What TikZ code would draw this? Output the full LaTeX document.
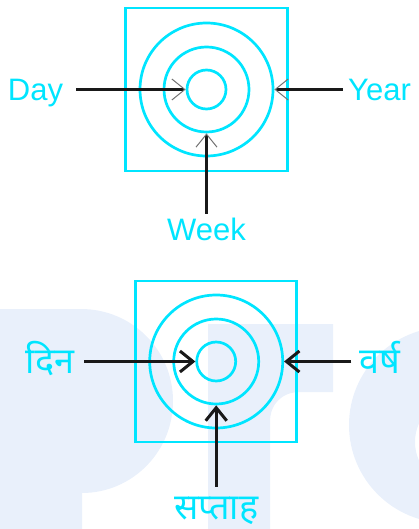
\documentclass[tikz,border=0pt]{standalone}
\usepackage{fontspec}
\setmainfont{Liberation Sans}
\newfontfamily\hindi[Script=Devanagari]{Noto Sans}
\usetikzlibrary{arrows.meta}
\definecolor{ringcyan}{RGB}{0,229,255}
\definecolor{wmblue}{RGB}{233,240,251}

\begin{document}
\begin{tikzpicture}[x=1pt, y=-1pt,
    ring/.style={draw=ringcyan, circle, line width=2.7pt, inner sep=0pt},
    frame/.style={draw=ringcyan, line width=2.7pt, inner sep=0pt},
    enlab/.style={text=ringcyan, inner sep=0pt, font=\fontsize{31}{36}\selectfont, text height=22pt, text depth=0pt},
    hilab/.style={text=ringcyan, inner sep=0pt, font=\hindi\fontsize{36}{40}\selectfont, text height=24pt, text depth=0pt},
    arrA/.style={line width=3.5pt, black!90, -{Straight Barb[length=13pt,width=21pt,line width=1pt,color=black!55]}},
    arrB/.style={line width=3pt, black!90, -{Straight Barb[length=13pt,width=21pt]}}]
    \useasboundingbox (0,0) rectangle (419,529);

    % Wasserzeichen (hellblau, hinter dem unteren Bild)
    \begin{scope}
        \clip (0,0) rectangle (419,529);
        \fill[wmblue] (-5,540) -- (-5,309) -- (81,309) .. controls (132,309) and (173,350) .. (173,401)
            .. controls (173,452) and (132,493) .. (82,493) -- (82,540) -- cycle;
        \fill[wmblue] (208,540) -- (208,324) -- (333,324) -- (333,392) -- (300,392)
            .. controls (282,392) and (270,404) .. (270,422) -- (270,540) -- cycle;
        \fill[wmblue, even odd rule] (447,425) circle[radius=98] (460,442) circle[radius=45];
    \end{scope}

    % Oben: Quadrat mit drei Ringen
    \node[frame, minimum width=162pt, minimum height=163pt] (sqA) at (206.5,89.5) {};
    \node[ring, minimum size=39pt] (inA) at (206.5,89.5) {};
    \node[ring, minimum size=85pt] (midA) at (206.5,89.5) {};
    \node[ring, minimum size=133pt] (outA) at (206.5,89.5) {};

    \node[enlab] (day) at (35.5,89.5) {Day};
    \node[enlab] (year) at (379.5,89.5) {Year};
    \node[enlab] (week) at (206.5,229) {Week};

    \draw[arrA, shorten <=13pt] (day) -- (inA);
    \draw[arrA, shorten <=5pt] (year) -- (outA);
    \draw[arrA, shorten <=4pt] (week) -- (midA);

    % Unten: dasselbe mit Hindi-Beschriftung
    \node[frame, minimum size=161pt] (sqB) at (216.2,361.5) {};
    \node[ring, minimum size=39pt] (inB) at (216.2,361.5) {};
    \node[ring, minimum size=85pt] (midB) at (216.2,361.5) {};
    \node[ring, minimum size=133pt] (outB) at (216.2,361.5) {};

    \node[hilab] (din) at (50,361.5) {दिन};
    \node[hilab] (varsh) at (380,361.5) {वर्ष};
    \node[hilab] (saptah) at (216.2,507) {सप्ताह};

    \draw[arrB, shorten <=10pt] (din) -- (inB);
    \draw[arrB, shorten <=8pt] (varsh) -- (outB);
    \draw[arrB, shorten <=8pt] (saptah) -- (midB);
\end{tikzpicture}
\end{document}
